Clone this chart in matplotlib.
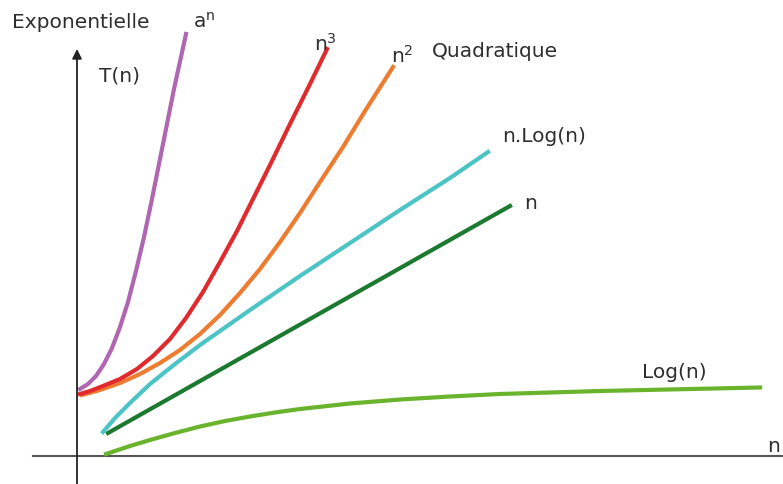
import matplotlib
matplotlib.use("Agg")
import matplotlib.pyplot as plt

# curves, in pixel coordinates (x right, y down)
expo_x = [80, 88, 96, 104, 112, 120, 128, 136, 144, 152, 162, 174, 186]
expo_y = [390, 385, 377, 365, 349, 328, 303, 272, 238, 200, 150, 90, 35]

cube_x = [80, 90, 103, 120, 137, 153, 170, 186, 203, 220, 237, 253, 270, 290, 310, 327]
cube_y = [395, 392, 387, 380, 370, 357, 340, 319, 293, 263, 232, 200, 166, 125, 85, 50]

quad_x = [82, 100, 120, 140, 160, 180, 200, 220, 240, 260, 280, 300, 320, 343, 365, 393]
quad_y = [396, 391, 384, 375, 364, 351, 335, 316, 294, 270, 243, 214, 183, 148, 112, 68]

nlog_x = [103, 115, 130, 150, 175, 200, 250, 300, 350, 400, 450, 488]
nlog_y = [433, 419, 404, 385, 365, 346, 311, 277, 244, 211, 179, 153]

lin_x = [108, 510]
lin_y = [434, 207]

log_x = [106, 130, 150, 175, 200, 225, 250, 275, 300, 350, 400, 450, 500, 600, 700, 760]
log_y = [455, 447, 441, 434, 427.5, 422, 417.5, 413.5, 410, 404.5, 400.5, 397.5, 395,
         392, 389.8, 388.5]

fig = plt.figure(figsize=(7.83, 4.85), dpi=100)
ax = fig.add_axes([0, 0, 1, 1])
ax.set_xlim(0, 783)
ax.set_ylim(485, 0)
ax.axis("off")

axis_col = "#555555"
txt_col = "#2e2e2e"

# axes of the sketch
ax.plot([33, 783], [457, 457], color=axis_col, lw=1.5)
ax.annotate("", xy=(77, 50), xytext=(77, 485),
            arrowprops=dict(arrowstyle="-|>", color="#222222", lw=1.3,
                            mutation_scale=14, shrinkA=0, shrinkB=0))

lw = 3
ax.plot(log_x, log_y, color="#6AB42D", lw=lw, solid_joinstyle="round")
ax.plot(lin_x, lin_y, color="#1B7A30", lw=lw)
ax.plot(nlog_x, nlog_y, color="#4CC4C6", lw=lw, solid_joinstyle="round")
ax.plot(quad_x, quad_y, color="#EE7C30", lw=lw, solid_joinstyle="round")
ax.plot(cube_x, cube_y, color="#E02A2E", lw=lw, solid_joinstyle="round")
ax.plot(expo_x, expo_y, color="#B066B0", lw=lw, solid_joinstyle="round")

fs = 14.5
kw = dict(color=txt_col, fontsize=fs, family="DejaVu Sans", va="baseline")
ax.text(12, 28, "Exponentielle", **kw)
ax.text(193, 28, r"$\mathregular{a^n}$", **kw)
ax.text(99, 82, "T(n)", **kw)
ax.text(314, 51, r"$\mathregular{n^3}$", **kw)
ax.text(391, 63, r"$\mathregular{n^2}$", **kw)
ax.text(432, 57, "Quadratique", **kw)
ax.text(502, 142, "n.Log(n)", **kw)
ax.text(524, 209, "n", **kw)
ax.text(642, 378, "Log(n)", **kw)
ax.text(767, 452, "n", **kw)

fig.savefig("out.png", dpi=100)
plt.close(fig)
